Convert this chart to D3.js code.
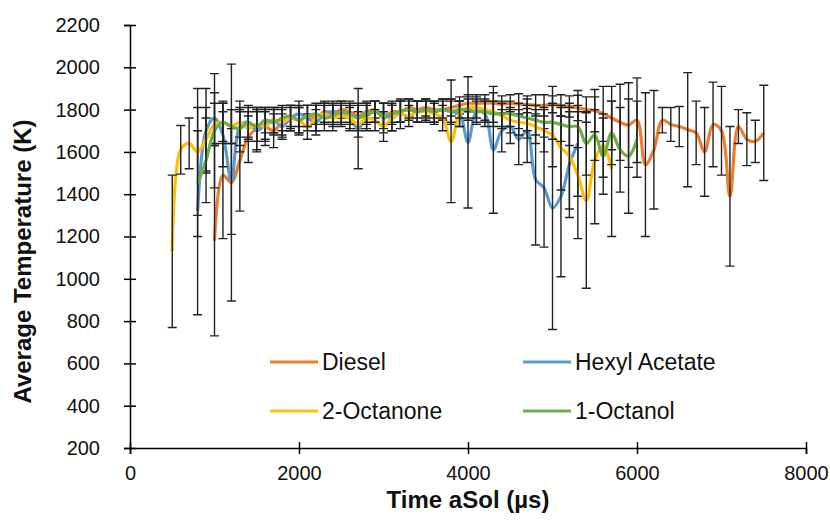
<html lang="en">

    <head>
        <meta charset="utf-8">
        <title>Average Temperature vs Time aSol</title>
        <style>
            body {
                margin: 0;
                background-color: white;
                font-family: Arial, "Liberation Sans", Helvetica, sans-serif;
            }

            svg {
                background-color: white;
            }

            .axis path,
            .axis line {
                fill: none;
                stroke: black;
                stroke-width: 1.5;
            }

            .axis text {
                font-family: Arial, "Liberation Sans", sans-serif;
                fill: #111;
                font-size: 20px;
            }

            .title {
                font-family: Arial, "Liberation Sans", sans-serif;
                font-weight: bold;
                font-size: 24px;
                fill: #111;
                text-anchor: middle;
            }

            .legend text {
                font-family: Arial, "Liberation Sans", sans-serif;
                font-size: 23px;
                fill: #111;
            }

            .errbar {
                stroke: #222;
                stroke-width: 1.4;
                fill: none;
            }
        </style>
    </head>

    <body>
    </body>

    <script type="text/javascript" src="https://cdnjs.cloudflare.com/ajax/libs/d3/7.8.5/d3.min.js"></script>

    <script type="text/javascript">
        // time after start of injection (µs), shared by all series
        var times = [500, 600, 700, 800, 900, 1000, 1100, 1200, 1300, 1400,
                     1500, 1600, 1700, 1800, 1900, 2000, 2100, 2200, 2300, 2400,
                     2500, 2600, 2700, 2800, 2900, 3000, 3100, 3200, 3300, 3400,
                     3500, 3600, 3700, 3800, 3900, 4000, 4100, 4200, 4300, 4400,
                     4500, 4600, 4700, 4800, 4900, 5000, 5100, 5200, 5300, 5400,
                     5500, 5600, 5700, 5800, 5900, 6000, 6100, 6200, 6300, 6400,
                     6500, 6600, 6700, 6800, 6900, 7000, 7100, 7200, 7300, 7400,
                     7500];

        var seriesNames = ["Diesel", "Hexyl Acetate", "2-Octanone", "1-Octanol"];
        var seriesColors = ["#ED7D31", "#5B9BD5", "#FFC000", "#70AD47"];

        var diesel = [null, null, null, null, null, 1180, 1490, 1455, 1560, 1670,
                      1710, 1720, 1700, 1740, 1760, 1750, 1770, 1760, 1790, 1780,
                      1800, 1790, 1770, 1790, 1800, 1760, 1790, 1790, 1810, 1800,
                      1810, 1800, 1800, 1810, 1820, 1830, 1830, 1830, 1830, 1825,
                      1830, 1825, 1825, 1820, 1820, 1825, 1820, 1815, 1808, 1800,
                      1795, 1780, 1760, 1740, 1727, 1750, 1540, 1610, 1750, 1730,
                      1720, 1705, 1690, 1600, 1730, 1700, 1390, 1720, 1660, 1650,
                      1690];
        var dieselErr = [null, null, null, null, null, 450, 300, 560, 240, 120,
                         100, 90, 80, 70, 60, 60, 50, 60, 50, 50,
                         40, 50, 60, 50, 40, 70, 50, 50, 40, 40,
                         40, 40, 50, 40, 40, 40, 40, 40, 50, 40,
                         40, 50, 40, 50, 50, 40, 50, 50, 60, 60,
                         100, 130, 150, 180, 200, 200, 340, 280, 60, 80,
                         95, 270, 150, 210, 200, 210, 330, 80, 125, 100,
                         225];

        var hexyl = [null, null, null, 1320, 1700, 1760, 1680, 1460, 1720, 1740,
                     1700, 1730, 1750, 1720, 1760, 1780, 1760, 1740, 1780, 1790,
                     1780, 1760, 1710, 1770, 1790, 1780, 1760, 1790, 1800, 1790,
                     1800, 1790, 1800, 1790, 1780, 1645, 1790, 1780, 1610, 1700,
                     1720, 1660, 1700, 1470, 1430, 1335, 1390, 1540, 1640, null,
                     null, null, null, null, null, null, null, null, null, null,
                     null, null, null, null, null, null, null, null, null, null,
                     null];
        var hexylErr = [null, null, null, 490, 200, 120, 150, 250, 120, 80,
                        100, 70, 60, 60, 50, 60, 60, 60, 50, 50,
                        50, 60, 190, 60, 50, 50, 60, 50, 50, 50,
                        40, 50, 50, 60, 60, 310, 60, 60, 300, 100,
                        80, 120, 150, 310, 280, 575, 380, 250, 250, null,
                        null, null, null, null, null, null, null, null, null, null,
                        null, null, null, null, null, null, null, null, null, null,
                        null];

        var octanone = [1130, 1610, 1640, 1600, 1660, 1730, 1740, 1720, 1740, 1710,
                        1730, 1720, 1750, 1740, 1760, 1750, 1720, 1760, 1780, 1760,
                        1770, 1760, 1730, 1760, 1750, 1720, 1760, 1780, 1770, 1790,
                        1790, 1780, 1760, 1650, 1780, 1810, 1810, 1800, 1790, 1770,
                        1750, 1740, 1735, 1720, 1700, 1680, 1620, 1580, 1490, 1370,
                        1560, 1630, 1520, null, null, null, null, null, null, null,
                        null, null, null, null, null, null, null, null, null, null,
                        null];
        var octanoneErr = [360, 115, 120, 300, 150, 100, 90, 80, 70, 60,
                           80, 70, 60, 60, 60, 70, 60, 60, 50, 60,
                           50, 50, 60, 60, 50, 70, 60, 70, 50, 50,
                           50, 50, 60, 290, 60, 50, 50, 50, 50, 60,
                           60, 60, 70, 80, 100, 150, 200, 250, 300, 415,
                           300, 150, 320, null, null, null, null, null, null, null,
                           null, null, null, null, null, null, null, null, null, null,
                           null];

        var octanol = [null, null, null, 1450, 1560, 1700, 1740, 1720, 1710, 1740,
                       1720, 1750, 1740, 1760, 1770, 1750, 1770, 1780, 1760, 1770,
                       1790, 1780, 1760, 1780, 1790, 1770, 1780, 1790, 1800, 1790,
                       1800, 1790, 1800, 1790, 1800, 1800, 1790, 1790, 1780, 1780,
                       1780, 1770, 1760, 1750, 1740, 1740, 1730, 1720, 1720, 1640,
                       1680, 1580, 1690, 1610, 1580, 1660, null, null, null, null,
                       null, null, null, null, null, null, null, null, null, null,
                       null];
        var octanolErr = [null, null, null, 250, 200, 270, 100, 80, 80, 70,
                          70, 60, 60, 60, 50, 60, 50, 50, 60, 50,
                          50, 50, 60, 50, 50, 60, 50, 50, 40, 50,
                          50, 50, 40, 50, 40, 50, 50, 50, 60, 60,
                          60, 60, 60, 70, 70, 80, 80, 90, 100, 150,
                          120, 180, 150, 200, 270, 180, null, null, null, null,
                          null, null, null, null, null, null, null, null, null, null,
                          null];

        var xTicks = [0, 2000, 4000, 6000, 8000];
        var yTicks = [200, 400, 600, 800, 1000, 1200, 1400, 1600, 1800, 2000, 2200];

        var fullwidth = 830;
        var fullheight = 522;

        var margin = { top: 25, right: 24, bottom: 74, left: 130 };

        var width = fullwidth - margin.left - margin.right;
        var height = fullheight - margin.top - margin.bottom;

        var svg = d3.select("body")
                    .append("svg")
                    .attr("width", fullwidth)
                    .attr("height", fullheight)
                    .append("g")
                    .attr("transform", "translate(" + margin.left + "," + margin.top + ")");

        var xScale = d3.scaleLinear()
                        .domain([0, 8000])
                        .range([0, width]);

        var yScale = d3.scaleLinear()
                        .domain([200, 2200])
                        .range([height, 0]);

        // build one table per series from the arrays
        var allValues = [diesel, hexyl, octanone, octanol];
        var allErrors = [dieselErr, hexylErr, octanoneErr, octanolErr];

        var series = seriesNames.map(function(name, k) {
            var pts = [];
            times.forEach(function(t, i) {
                if (allValues[k][i] != null) {
                    pts.push({ time: t, temp: allValues[k][i], err: allErrors[k][i] });
                }
            });
            return { name: name, color: seriesColors[k], points: pts };
        });

        var line = d3.line()
                        .curve(d3.curveCatmullRom.alpha(0.5))
                        .x(function(d) { return xScale(d.time); })
                        .y(function(d) { return yScale(d.temp); });

        // axes, ticks crossing the axis line like the original
        var yAxis = d3.axisLeft(yScale)
                        .tickValues(yTicks)
                        .tickFormat(d3.format("d"))
                        .tickSizeOuter(0)
                        .tickSize(6)
                        .tickPadding(24);

        var xAxis = d3.axisBottom(xScale)
                        .tickValues(xTicks)
                        .tickFormat(d3.format("d"))
                        .tickSizeOuter(0)
                        .tickSize(6)
                        .tickPadding(12);

        var gy = svg.append("g")
                    .attr("class", "y axis")
                    .call(yAxis);
        gy.selectAll(".tick line").attr("x1", 6);

        var gx = svg.append("g")
                    .attr("class", "x axis")
                    .attr("transform", "translate(0," + height + ")")
                    .call(xAxis);
        gx.selectAll(".tick line").attr("y1", -6);

        // series: line then its error bars
        series.forEach(function(s) {
            var g = svg.append("g").attr("class", "series");

            g.append("path")
                .datum(s.points)
                .attr("d", line)
                .attr("fill", "none")
                .attr("stroke", s.color)
                .attr("stroke-width", 3.2)
                .attr("stroke-linejoin", "round");

            g.selectAll(".errbar")
                .data(s.points)
                .enter()
                .append("path")
                .attr("class", "errbar")
                .attr("d", function(d) {
                    var x = xScale(d.time),
                        y0 = yScale(d.temp - d.err),
                        y1 = yScale(d.temp + d.err),
                        c = 4.5;
                    return "M" + x + "," + y0 + "V" + y1 +
                           "M" + (x - c) + "," + y1 + "H" + (x + c) +
                           "M" + (x - c) + "," + y0 + "H" + (x + c);
                });
        });

        // axis titles
        svg.append("text")
            .attr("class", "title")
            .attr("x", width / 2)
            .attr("y", height + 60)
            .text("Time aSol (µs)");

        svg.append("text")
            .attr("class", "title")
            .attr("transform", "translate(" + (-99) + "," + (height / 2 + 25) + ") rotate(-90)")
            .text("Average Temperature (K)");

        // legend (2 x 2 inside the plot)
        var legendPos = [
            { x: 140, y: 337 },
            { x: 393, y: 337 },
            { x: 140, y: 386 },
            { x: 393, y: 386 }
        ];

        var legend = svg.append("g").attr("class", "legend");

        series.forEach(function(s, k) {
            var p = legendPos[k];
            legend.append("line")
                .attr("x1", p.x)
                .attr("x2", p.x + 48)
                .attr("y1", p.y)
                .attr("y2", p.y)
                .attr("stroke", s.color)
                .attr("stroke-width", 3);
            legend.append("text")
                .attr("x", p.x + 52)
                .attr("y", p.y)
                .attr("dy", "0.36em")
                .text(s.name);
        });

    </script>

</html>
